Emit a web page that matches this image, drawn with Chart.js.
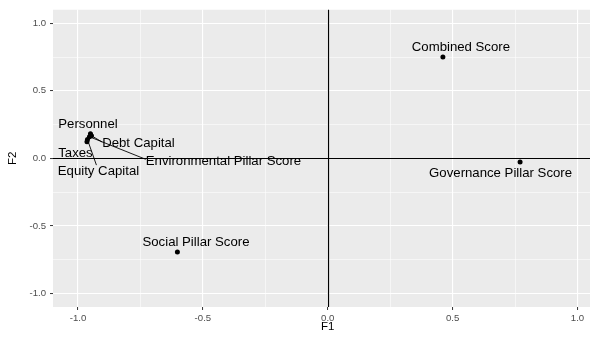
<!DOCTYPE html>
<html>
<head>
<meta charset="utf-8">
<script src="https://cdn.jsdelivr.net/npm/chart.js@4/dist/chart.umd.min.js"></script>
<style>
  html, body { margin: 0; padding: 0; background: #ffffff; overflow: hidden; }
  #wrap { width: 590px; height: 338px; overflow: hidden; }
  #c { display: block; }
</style>
</head>
<body>
<div id="wrap"><canvas id="c" width="605" height="338"></canvas></div>
<script>
// Factor map: variable coordinates on the first two factors
const categories = ['Combined Score', 'Governance Pillar Score', 'Social Pillar Score',
  'Personnel', 'Debt Capital', 'Environmental Pillar Score', 'Equity Capital', 'Taxes'];
const f1 = [0.461, 0.770, -0.602, -0.950, -0.946, -0.954, -0.962, -0.964];
const f2 = [0.751, -0.027, -0.693, 0.182, 0.168, 0.160, 0.139, 0.124];

// Axis ticks (labelled) and grid positions (major + minor)
const tickLabels = [-1, -0.5, 0, 0.5, 1];
const gridValues = [-1, -0.75, -0.5, -0.25, 0, 0.25, 0.5, 0.75, 1];

// Reference lines through the origin
const refX = 0;
const refY = 0;

// Repelled label placement: pixel nudge from the point, and optional leader anchor on the label box
const labelLayout = [
  { dx: 18, dy: -10, seg: null },
  { dx: -19.5, dy: 11, seg: null },
  { dx: 18.6, dy: -9.5, seg: null },
  { dx: -2.5, dy: -9, seg: null },
  { dx: 47, dy: 7.7, seg: [-1, -0.2] },
  { dx: 134, dy: 24.5, seg: [-1, -0.3] },
  { dx: 11, dy: 32, seg: [-0.05, -1] },
  { dx: -11.5, dy: 11.7, seg: null }
];

const FONT = "'Liberation Sans', Arial, Helvetica, sans-serif";
const isMajor = v => tickLabels.some(t => Math.abs(t - v) < 1e-9);

const panelBg = {
  id: 'panelBg',
  beforeDraw(chart) {
    const { ctx, chartArea: a } = chart;
    ctx.save();
    ctx.fillStyle = '#EBEBEB';
    ctx.fillRect(a.left, a.top, a.right - a.left, a.bottom - a.top);
    ctx.restore();
  }
};

const refLines = {
  id: 'refLines',
  beforeDatasetsDraw(chart) {
    const { ctx, chartArea: a, scales } = chart;
    const px = Math.round(scales.x.getPixelForValue(refX)) + 0.5;
    const py = Math.round(scales.y.getPixelForValue(refY)) + 0.5;
    ctx.save();
    ctx.strokeStyle = '#000';
    ctx.lineWidth = 1.2;
    ctx.beginPath();
    ctx.moveTo(px, a.top); ctx.lineTo(px, a.bottom);
    ctx.moveTo(a.left, py); ctx.lineTo(a.right, py);
    ctx.stroke();
    ctx.restore();
  }
};

const pointLabels = {
  id: 'pointLabels',
  afterDatasetsDraw(chart) {
    const { ctx } = chart;
    const meta = chart.getDatasetMeta(0);
    ctx.save();
    ctx.font = '13.2px ' + FONT;
    ctx.textAlign = 'center';
    ctx.textBaseline = 'middle';
    const h = 13;
    meta.data.forEach((pt, i) => {
      const lay = labelLayout[i];
      const cx = pt.x + lay.dx;
      const cy = pt.y + lay.dy;
      const w = ctx.measureText(categories[i]).width;
      if (lay.seg) {
        const ex = cx + lay.seg[0] * w / 2;
        const ey = cy + lay.seg[1] * h / 2;
        ctx.strokeStyle = '#000';
        ctx.lineWidth = 0.9;
        ctx.beginPath();
        ctx.moveTo(pt.x, pt.y);
        ctx.lineTo(ex, ey);
        ctx.stroke();
      }
    });
    meta.data.forEach((pt, i) => {
      const lay = labelLayout[i];
      ctx.fillStyle = '#000';
      ctx.fillText(categories[i], pt.x + lay.dx, pt.y + lay.dy);
    });
    ctx.restore();
  }
};

function axis(min, max, title, isY) {
  return {
    type: 'linear',
    min: min,
    max: max,
    afterBuildTicks: s => { s.ticks = gridValues.map(v => ({ value: v })); },
    afterFit: s => { if (isY) s.width = 53; else s.height = 31; },
    border: { display: false },
    grid: {
      color: '#FFFFFF',
      lineWidth: c => (c.tick && isMajor(c.tick.value)) ? 1.1 : 0.55,
      drawTicks: true,
      tickLength: 3,
      tickWidth: 1,
      tickColor: c => (c.tick && isMajor(c.tick.value)) ? '#333333' : 'rgba(0,0,0,0)'
    },
    ticks: {
      autoSkip: false,
      maxRotation: 0,
      minRotation: 0,
      padding: isY ? 4 : 3,
      color: '#4D4D4D',
      font: { family: FONT, size: 9.6 },
      callback: v => isMajor(v) ? v.toFixed(1) : ''
    },
    title: {
      display: true,
      text: title,
      color: '#000',
      font: { family: FONT, size: 11.5 },
      padding: isY ? { top: 6, bottom: 0 } : { top: 0, bottom: 4 }
    }
  };
}

new Chart(document.getElementById('c'), {
  type: 'scatter',
  data: {
    datasets: [{
      data: categories.map((c, i) => ({ x: f1[i], y: f2[i] })),
      pointRadius: 2.5,
      pointHoverRadius: 2.5,
      backgroundColor: '#000',
      borderWidth: 0
    }]
  },
  options: {
    responsive: false,
    animation: false,
    events: [],
    layout: { padding: { top: 6, right: 0, bottom: 0, left: 0 } },
    plugins: { legend: { display: false }, tooltip: { enabled: false } },
    scales: {
      x: axis(-1.1, 1.1, 'F1', false),
      y: axis(-1.1, 1.1, 'F2', true)
    }
  },
  plugins: [panelBg, refLines, pointLabels]
});
</script>
</body>
</html>
